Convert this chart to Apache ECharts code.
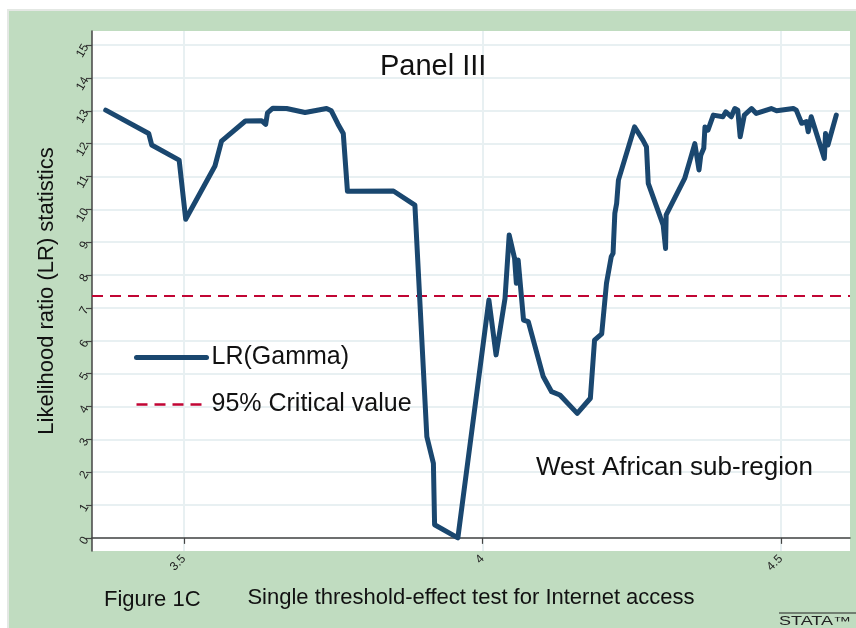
<!DOCTYPE html>
<html>
<head>
<meta charset="utf-8">
<script src="https://cdn.jsdelivr.net/npm/echarts@6/dist/echarts.min.js"></script>
<style>
  html, body { margin: 0; padding: 0; background: #fff; }
  #chart { width: 856px; height: 628px; }
</style>
</head>
<body>
<div id="chart"></div>
<script>
// threshold values (x) and LR statistics (y)
const lrX = [3.369, 3.441, 3.446, 3.492, 3.503, 3.552, 3.563, 3.603, 3.630, 3.637,
  3.640, 3.649, 3.672, 3.703, 3.739, 3.747, 3.758, 3.767, 3.774, 3.851,
  3.887, 3.907, 3.918, 3.920, 3.959, 4.011, 4.023, 4.038, 4.045, 4.054,
  4.057, 4.060, 4.069, 4.077, 4.102, 4.116, 4.130, 4.159, 4.181, 4.188,
  4.200, 4.208, 4.216, 4.219, 4.222, 4.225, 4.228, 4.255, 4.269, 4.275,
  4.278, 4.303, 4.307, 4.308, 4.339, 4.348, 4.356, 4.363, 4.366, 4.371,
  4.373, 4.378, 4.387, 4.403, 4.408, 4.417, 4.423, 4.428, 4.432, 4.439,
  4.451, 4.459, 4.484, 4.493, 4.521, 4.526, 4.535, 4.543, 4.546, 4.551,
  4.573, 4.575, 4.579, 4.593]
const lrY = [13.02, 12.31, 11.96, 11.50, 9.70, 11.32, 12.08, 12.69, 12.70, 12.59,
  12.94, 13.08, 13.07, 12.95, 13.07, 13.00, 12.60, 12.31, 10.55, 10.56,
  10.13, 3.08, 2.27, 0.40, 0.00, 7.24, 5.57, 7.29, 9.22, 8.51,
  7.75, 8.46, 6.63, 6.58, 4.91, 4.45, 4.35, 3.79, 4.25, 6.02,
  6.21, 7.75, 8.56, 8.66, 9.88, 10.18, 10.89, 12.51, 12.11, 11.90,
  10.79, 9.52, 8.81, 9.83, 10.94, 11.50, 12.00, 11.20, 11.65, 11.86,
  12.51, 12.41, 12.87, 12.82, 12.97, 12.82, 13.07, 13.02, 12.21, 12.87,
  13.07, 12.92, 13.07, 13.00, 13.07, 13.02, 12.62, 12.67, 12.36, 12.82,
  11.55, 12.31, 11.96, 12.87]
const criticalValue = 7.36
const xTicks = [3.5, 4, 4.5]
const yTicks = [0, 1, 2, 3, 4, 5, 6, 7, 8, 9, 10, 11, 12, 13, 14, 15]

const font = 'Liberation Sans, Arial, sans-serif'
const navy = '#1a476f'
const red = '#c10534'
const chart = echarts.init(document.getElementById('chart'))

const lrData = lrX.map((x, i) => [x, lrY[i]])

const option = {
  backgroundColor: '#fff',
  animation: false,
  textStyle: { fontFamily: font },
  graphic: [
    {
      type: 'rect', z: -10, silent: true,
      shape: { x: 8, y: 10, width: 856, height: 628 },
      style: { fill: '#c0dcc0', stroke: '#e4e8e4', lineWidth: 2 }
    },
    {
      type: 'line', silent: true, z: 100,
      shape: { x1: 779, y1: 613, x2: 856, y2: 613 },
      style: { stroke: '#222', lineWidth: 1 }
    },
    {
      type: 'text', silent: true, z: 100, x: 779, y: 622, scaleX: 1.5,
      style: { text: 'STATA™', font: '12px ' + font, fill: '#222', verticalAlign: 'middle' }
    },
    {
      type: 'text', silent: true, z: 100, x: 104, y: 600,
      style: { text: 'Figure 1C', font: '22px ' + font, fill: '#111', verticalAlign: 'middle' }
    },
    {
      type: 'text', silent: true, z: 100, x: 380, y: 67,
      style: { text: 'Panel III', font: '29px ' + font, fill: '#111', verticalAlign: 'middle' }
    },
    {
      type: 'text', silent: true, z: 100, x: 536, y: 468,
      style: { text: 'West African sub-region', font: '26px ' + font, fill: '#111', verticalAlign: 'middle' }
    }
  ],
  grid: {
    left: 92, top: 31, right: 6, bottom: 77,
    show: true, backgroundColor: '#fff', borderWidth: 0
  },
  legend: {
    orient: 'vertical',
    left: 134, top: 345, padding: 0,
    itemWidth: 70, itemHeight: 14, itemGap: 22,
    itemStyle: { opacity: 0 },
    textStyle: { fontSize: 25, color: '#111', fontFamily: font },
    data: [
      { name: 'LR(Gamma)', lineStyle: { color: navy, width: 5 } },
      { name: '95% Critical value', lineStyle: { color: red, width: 2.5, type: [11, 7] } }
    ]
  },
  xAxis: {
    type: 'value',
    min: 3.346, max: 4.616,
    name: 'Single threshold-effect test for Internet access',
    nameLocation: 'middle', nameGap: 36,
    nameTextStyle: { fontSize: 22, color: '#111' },
    axisLine: { show: true, lineStyle: { color: '#444', width: 1.5 } },
    axisTick: { show: true, length: 6, customValues: xTicks, lineStyle: { color: '#444', width: 1.2 } },
    axisLabel: {
      customValues: xTicks, rotate: 45, fontSize: 12, color: '#222', margin: 6,
      formatter: v => String(v)
    },
    splitLine: { show: true, lineStyle: { color: '#e8f0f2', width: 2 } }
  },
  yAxis: {
    type: 'value',
    min: -0.4, max: 15.43,
    name: 'Likelihood ratio (LR) statistics',
    nameLocation: 'middle', nameGap: 34,
    nameTextStyle: { fontSize: 22, color: '#111' },
    axisLine: { show: true, lineStyle: { color: '#444', width: 1.5 } },
    axisTick: { show: true, length: 6, customValues: yTicks, lineStyle: { color: '#444', width: 1.2 } },
    axisLabel: {
      customValues: yTicks, rotate: 60, fontSize: 12, color: '#222', margin: 6
    },
    splitLine: { show: true, lineStyle: { color: '#e8f0f2', width: 2 } }
  },
  series: [
    {
      name: 'LR(Gamma)',
      type: 'line',
      data: lrData,
      symbol: 'none',
      lineStyle: { color: navy, width: 5, join: 'round', cap: 'round' },
      itemStyle: { color: navy },
      z: 5
    },
    {
      name: '95% Critical value',
      type: 'line',
      data: [],
      symbol: 'none',
      lineStyle: { color: red, width: 2, type: [11, 7] },
      itemStyle: { color: red },
      markLine: {
        silent: true, symbol: 'none', label: { show: false },
        lineStyle: { color: red, width: 2, type: [11, 7] },
        data: [{ yAxis: criticalValue }]
      },
      z: 4
    }
  ]
}

chart.setOption(option)
</script>
</body>
</html>
